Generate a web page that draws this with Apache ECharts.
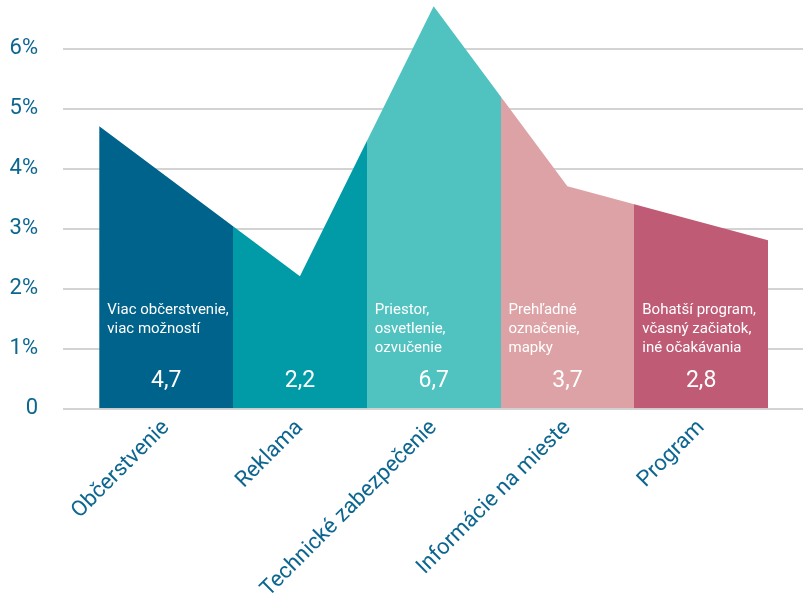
<!DOCTYPE html>
<html>
<head>
<meta charset="utf-8">
<script src="https://cdn.jsdelivr.net/npm/echarts@6/dist/echarts.min.js"></script>
<style>
  html, body { margin: 0; padding: 0; background: #ffffff; }
  #chart { width: 803px; height: 601px; }
</style>
</head>
<body>
<div id="chart"></div>
<script>
// Survey topics and the share of answers for each
const categories = ['Občerstvenie', 'Reklama', 'Technické zabezpečenie', 'Informácie na mieste', 'Program'];
const values = [4.7, 2.2, 6.7, 3.7, 2.8];
const notes = [
  'Viac občerstvenie,\nviac možností',
  '',
  'Priestor,\nosvetlenie,\nozvučenie',
  'Prehľadné\noznačenie,\nmapky',
  'Bohatší program,\nvčasný začiatok,\niné očakávania'
];
const bandColors = ['#00638b', '#009ba6', '#50c3c1', '#dda2a5', '#c05b76'];
const yTicks = [0, 1, 2, 3, 4, 5, 6, 7];

const n = categories.length;
// The outline starts at the left edge of the first band, passes the middle
// of the inner bands and ends at the right edge of the last band.
const outline = values.map((v, i) => [i === 0 ? 0 : (i === n - 1 ? n : i + 0.5), v]);

const textColor = '#0d6690';
const font = 'Roboto, "Noto Sans", sans-serif';

const chart = echarts.init(document.getElementById('chart'), null, { renderer: 'canvas' });

chart.setOption({
  animation: false,
  backgroundColor: '#ffffff',
  grid: [
    { left: 63, right: 0, top: -11.7, bottom: 192.7, containLabel: false, outerBoundsMode: 'none' },
    { left: 99.3, right: 35, top: -11.7, bottom: 192.7, containLabel: false, outerBoundsMode: 'none' }
  ],
  xAxis: [
    { gridIndex: 0, type: 'value', min: 0, max: 1, show: false },
    { gridIndex: 1, type: 'value', min: 0, max: n, show: false, position: 'top' },
    {
      gridIndex: 1, type: 'category', data: categories, boundaryGap: true, position: 'bottom',
      axisLine: { show: false }, axisTick: { show: false },
      axisLabel: { rotate: 45, margin: 16, fontSize: 22, color: textColor, fontFamily: font, interval: 0 }
    }
  ],
  yAxis: [
    {
      gridIndex: 0, type: 'value', min: yTicks[0], max: yTicks[yTicks.length - 1], interval: 1,
      axisLine: { show: false }, axisTick: { show: false },
      splitLine: { show: true, lineStyle: { color: '#d3d3d3', width: 2 } },
      axisLabel: {
        showMaxLabel: false, margin: 25, fontSize: 22, color: textColor, fontFamily: font,
        formatter: v => (v === 0 ? '0' : v + '%')
      }
    },
    { gridIndex: 1, type: 'value', min: yTicks[0], max: yTicks[yTicks.length - 1], show: false }
  ],
  visualMap: {
    show: false,
    type: 'piecewise',
    seriesIndex: 0,
    dimension: 0,
    pieces: bandColors.map((c, i) => ({ gte: i, lt: i + 1, color: c })),
    outOfRange: { color: bandColors[n - 1] }
  },
  series: [
    {
      type: 'line',
      xAxisIndex: 1, yAxisIndex: 1,
      data: outline,
      showSymbol: false,
      symbol: 'none',
      lineStyle: { width: 0 },
      areaStyle: { opacity: 1 },
      silent: true,
      z: 2
    },
    {
      type: 'custom',
      xAxisIndex: 1, yAxisIndex: 1,
      data: values.map((v, i) => [i, v]),
      silent: true,
      z: 5,
      renderItem: (params, api) => {
        const i = api.value(0);
        const base = api.coord([i, 0]);
        const w = api.size([1, 0])[0];
        return {
          type: 'group',
          children: [
            {
              type: 'text',
              style: {
                text: notes[i], x: base[0] + 8, y: base[1] - 108,
                fill: '#ffffff', font: '15px ' + font, lineHeight: 19,
                align: 'left', verticalAlign: 'top'
              }
            },
            {
              type: 'text',
              style: {
                text: api.value(1).toFixed(1).replace('.', ','),
                x: base[0] + w / 2, y: base[1] - 27,
                fill: '#ffffff', font: '23px ' + font,
                align: 'center', verticalAlign: 'middle'
              }
            }
          ]
        };
      }
    }
  ]
});
</script>
</body>
</html>
